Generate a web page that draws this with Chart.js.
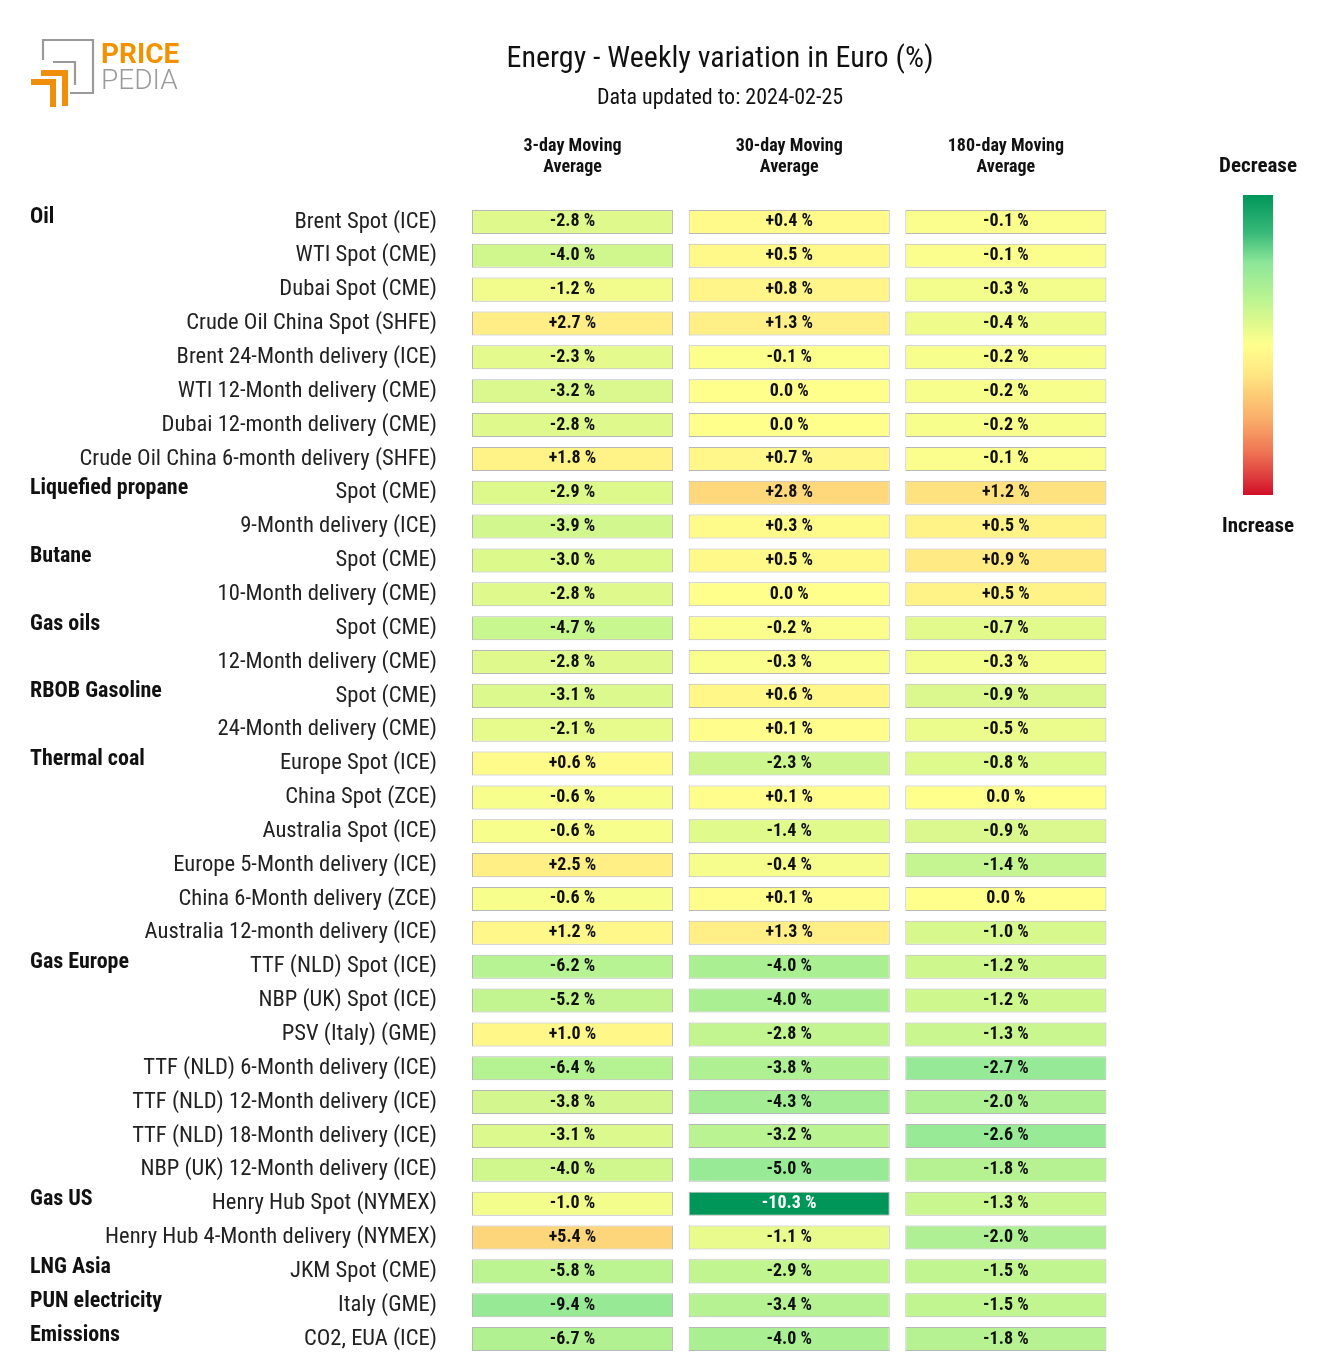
<!DOCTYPE html>
<html><head><meta charset="utf-8">
<script src="https://cdn.jsdelivr.net/npm/chart.js@4"></script>
<style>html,body{margin:0;padding:0;background:#fff}#wrap{width:1320px;height:1357px;position:relative}</style>
</head><body><div id="wrap"><canvas id="c"></canvas></div>
<script>
const rowLabels = [
 'Brent Spot (ICE)','WTI Spot (CME)','Dubai Spot (CME)','Crude Oil China Spot (SHFE)',
 'Brent 24-Month delivery (ICE)','WTI 12-Month delivery (CME)','Dubai 12-month delivery (CME)',
 'Crude Oil China 6-month delivery (SHFE)',
 'Spot (CME)','9-Month delivery (ICE)',
 'Spot (CME)','10-Month delivery (CME)',
 'Spot (CME)','12-Month delivery (CME)',
 'Spot (CME)','24-Month delivery (CME)',
 'Europe Spot (ICE)','China Spot (ZCE)','Australia Spot (ICE)','Europe 5-Month delivery (ICE)',
 'China 6-Month delivery (ZCE)','Australia 12-month delivery (ICE)',
 'TTF (NLD) Spot (ICE)','NBP (UK) Spot (ICE)','PSV (Italy) (GME)','TTF (NLD) 6-Month delivery (ICE)',
 'TTF (NLD) 12-Month delivery (ICE)','TTF (NLD) 18-Month delivery (ICE)','NBP (UK) 12-Month delivery (ICE)',
 'Henry Hub Spot (NYMEX)','Henry Hub 4-Month delivery (NYMEX)',
 'JKM Spot (CME)','Italy (GME)','CO2, EUA (ICE)'
];
const groupNames = ['Oil','Liquefied propane','Butane','Gas oils','RBOB Gasoline','Thermal coal','Gas Europe','Gas US','LNG Asia','PUN electricity','Emissions'];
const groupStartRows = [0,8,10,12,14,16,22,29,31,32,33];
const columnTitles = [['3-day Moving','Average'],['30-day Moving','Average'],['180-day Moving','Average']];
const ma3 = [-2.8,-4.0,-1.2,2.7,-2.3,-3.2,-2.8,1.8,-2.9,-3.9,-3.0,-2.8,-4.7,-2.8,-3.1,-2.1,0.6,-0.6,-0.6,2.5,-0.6,1.2,-6.2,-5.2,1.0,-6.4,-3.8,-3.1,-4.0,-1.0,5.4,-5.8,-9.4,-6.7];
const ma30 = [0.4,0.5,0.8,1.3,-0.1,0.0,0.0,0.7,2.8,0.3,0.5,0.0,-0.2,-0.3,0.6,0.1,-2.3,0.1,-1.4,-0.4,0.1,1.3,-4.0,-4.0,-2.8,-3.8,-4.3,-3.2,-5.0,-10.3,-1.1,-2.9,-3.4,-4.0];
const ma180 = [-0.1,-0.1,-0.3,-0.4,-0.2,-0.2,-0.2,-0.1,1.2,0.5,0.9,0.5,-0.7,-0.3,-0.9,-0.5,-0.8,0.0,-0.9,-1.4,0.0,-1.0,-1.2,-1.2,-1.3,-2.7,-2.0,-2.6,-1.8,-1.3,-2.0,-1.5,-1.5,-1.8];
const columns = [ma3, ma30, ma180];
const colorScales = [19, 10.3, 5.4];
const titleText = 'Energy - Weekly variation in Euro (%)';
const subtitleText = 'Data updated to: 2024-02-25';

const FONT = "'Roboto Condensed', 'Liberation Sans Narrow', Roboto, sans-serif";
const LOGOFONT = "Roboto, 'Open Sans', sans-serif";
const stops = [
 [-1, [0,150,90]], [-0.75,[55,185,120]], [-0.55,[140,230,152]], [-0.3,[188,244,145]],
 [-0.15,[222,249,140]], [0,[255,255,140]], [0.2,[255,230,130]], [0.3,[253,210,120]],
 [0.5,[250,172,105]], [0.7,[240,120,85]], [0.85,[225,70,65]], [1,[210,15,40]]
];
function colorAt(t){
  t = Math.max(-1, Math.min(1, t));
  for (let i=0;i<stops.length-1;i++){
    const [a,ca]=stops[i],[b,cb]=stops[i+1];
    if (t>=a && t<=b){
      const f=(t-a)/(b-a);
      const c=ca.map((v,k)=>Math.round(v+(cb[k]-v)*f));
      return `rgb(${c[0]},${c[1]},${c[2]})`;
    }
  }
  return 'rgb(255,255,140)';
}
function fmt(v){ return (v>0?'+':'')+v.toFixed(1)+' %'; }

const CELL_W = 0.928;
const datasets = columns.map((vals,j)=>({
  label: columnTitles[j].join(' '),
  data: vals.map(()=>[j, j+CELL_W]),
  values: vals,
  backgroundColor: vals.map(v=>colorAt(v/colorScales[j])),
  borderColor: '#b8b8b8',
  borderWidth: 1,
  borderSkipped: false,
  grouped: false,
  categoryPercentage: 1,
  barPercentage: 0.71
}));

const decorPlugin = {
  id:'decor',
  beforeDraw(chart){
    const ctx=chart.ctx;
    ctx.save(); ctx.fillStyle='#fff'; ctx.fillRect(0,0,chart.width,chart.height); ctx.restore();
  },
  afterDatasetsDraw(chart){
    const ctx=chart.ctx;
    const y=chart.scales.y, x=chart.scales.x;
    ctx.save();
    ctx.textAlign='center'; ctx.textBaseline='middle';
    ctx.font=`bold 18px ${FONT}`;
    chart.data.datasets.forEach((ds,j)=>{
      const meta=chart.getDatasetMeta(j);
      meta.data.forEach((el,i)=>{
        const v=ds.values[i];
        const t=Math.abs(v/colorScales[j]);
        ctx.fillStyle = t>0.7 ? '#fff' : '#111';
        ctx.fillText(fmt(v), (el.x+el.base)/2, el.y);
      });
    });
    ctx.font=`bold 18px ${FONT}`; ctx.fillStyle='#111';
    columnTitles.forEach((lines,j)=>{
      const cx=(x.getPixelForValue(j)+x.getPixelForValue(j+CELL_W))/2;
      ctx.fillText(lines[0], cx, 146);
      ctx.fillText(lines[1], cx, 167);
    });
    ctx.textAlign='left'; ctx.font=`bold 22px ${FONT}`;
    groupNames.forEach((g,k)=>{
      ctx.fillText(g, 30, y.getPixelForValue(groupStartRows[k])-4);
    });
    ctx.textAlign='center';
    ctx.font=`30px ${FONT}`; ctx.fillStyle='#111';
    ctx.fillText(titleText, 720, 59);
    ctx.font=`22px ${FONT}`;
    ctx.fillText(subtitleText, 720, 98);
    const bx=1243, by=195, bw=30, bh=300;
    const g=ctx.createLinearGradient(0,by,0,by+bh);
    stops.forEach(([t,c])=>g.addColorStop((t+1)/2, `rgb(${c[0]},${c[1]},${c[2]})`));
    ctx.fillStyle=g; ctx.fillRect(bx,by,bw,bh);
    ctx.fillStyle='#111'; ctx.font=`bold 21px ${FONT}`;
    ctx.fillText('Decrease', 1258, 167);
    ctx.fillText('Increase', 1258, 527);
    // logo
    ctx.strokeStyle='#9a9a9a'; ctx.lineWidth=2.2;
    ctx.beginPath();
    ctx.moveTo(43,60); ctx.lineTo(43,40); ctx.lineTo(93,40); ctx.lineTo(93,93); ctx.lineTo(70,93);
    ctx.stroke();
    ctx.beginPath();
    ctx.moveTo(53,62); ctx.lineTo(75,62); ctx.lineTo(75,85);
    ctx.stroke();
    ctx.strokeStyle='#f0900a'; ctx.lineWidth=6;
    ctx.beginPath(); ctx.moveTo(41,73); ctx.lineTo(65,73); ctx.lineTo(65,106); ctx.stroke();
    ctx.beginPath(); ctx.moveTo(31,82); ctx.lineTo(53,82); ctx.lineTo(53,107); ctx.stroke();
    ctx.textAlign='left'; ctx.textBaseline='alphabetic';
    ctx.fillStyle='#f39200'; ctx.font=`bold 28px ${LOGOFONT}`;
    ctx.fillText('PRICE', 101, 63);
    ctx.fillStyle='#9a9a9a'; ctx.font=`300 28px ${LOGOFONT}`;
    ctx.fillText('PEDIA', 101, 89);
    ctx.restore();
  }
};

new Chart(document.getElementById('c'), {
  type:'bar',
  data:{ labels: rowLabels, datasets },
  options:{
    indexAxis:'y',
    responsive:true, maintainAspectRatio:false, animation:false,
    layout:{ padding:{ top:205, right:198, bottom:1, left:0 } },
    plugins:{ legend:{display:false}, tooltip:{enabled:false}, title:{display:false} },
    scales:{
      x:{ type:'linear', min:0, max:3, display:false },
      y:{ type:'category', offset:true,
          grid:{ display:false, drawTicks:false }, border:{ display:false },
          ticks:{ autoSkip:false, padding:35, color:'#222', font:{ family:FONT, size:22.6 } },
          afterFit(s){ s.width = 472; s.paddingTop = 0; s.paddingBottom = 0; } }
    }
  },
  plugins:[decorPlugin]
});
</script>
</body></html>
